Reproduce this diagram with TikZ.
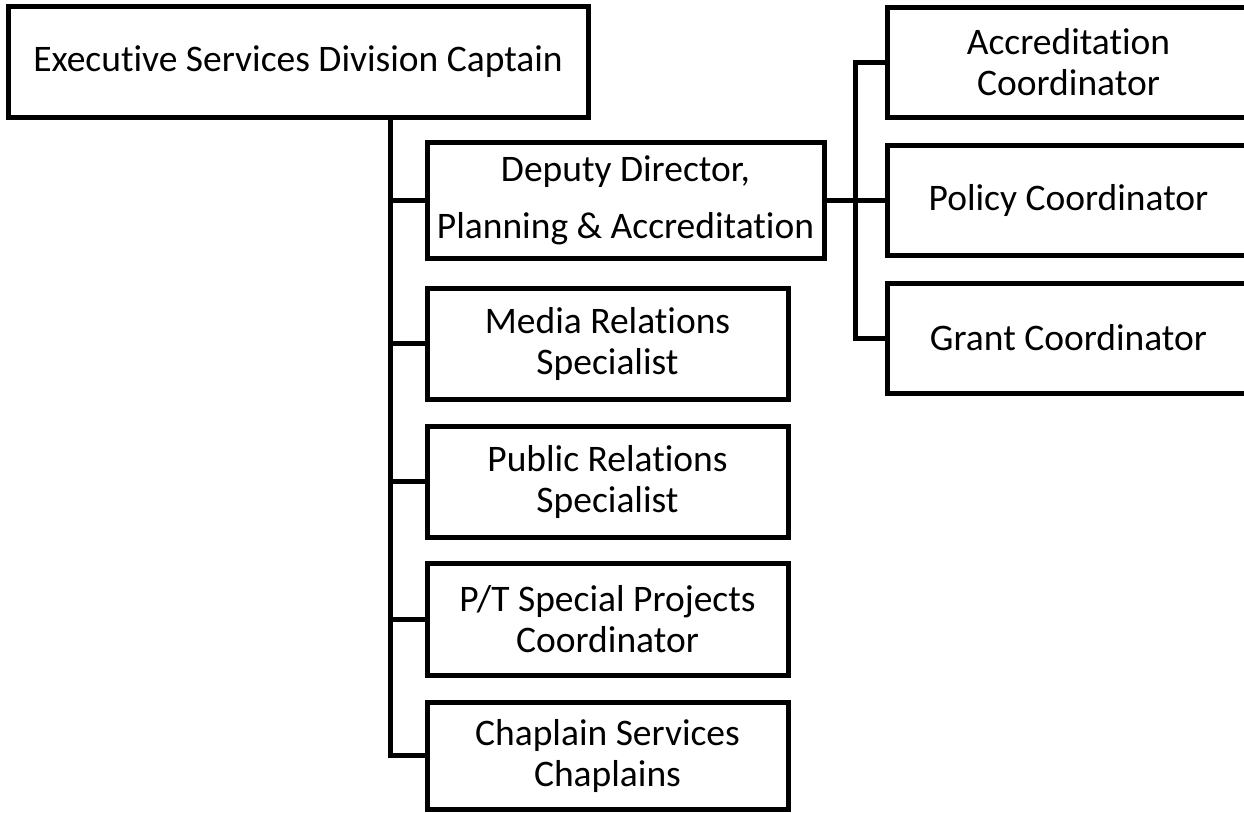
\documentclass[tikz,border=0pt]{standalone}
\usepackage{fontspec}
\setmainfont{Carlito}[Ligatures={NoCommon}]
\begin{document}
\begin{tikzpicture}[x=1pt,y=-1pt,
  box/.style={draw=black,line width=5pt,fill=white,rectangle,inner sep=0pt,align=center,
    font=\fontsize{37.5}{41}\selectfont},
  conn/.style={draw=black,line width=5pt}]
\useasboundingbox (0,0) rectangle (1244,812);
\clip (0,0) rectangle (1244,812);
\fill[white] (0,0) rectangle (1244,812);
% nodes
\node[box,minimum width=580pt,minimum height=111pt] (top) at (298,62) {Executive Services Division Captain};
\node[box,minimum width=397pt,minimum height=116pt,font=\fontsize{37.5}{57}\selectfont] (dep) at (625.5,200) {Deputy Director,\\Planning \& Accreditation};
\node[box,minimum width=361pt,minimum height=111pt] (media) at (607.5,343.5) {Media Relations\\Specialist};
\node[box,minimum width=361pt,minimum height=111pt] (pub) at (607.5,481.5) {Public Relations\\Specialist};
\node[box,minimum width=361pt,minimum height=112pt] (pt) at (607.5,619) {P/T Special Projects\\Coordinator};
\node[box,minimum width=361pt,minimum height=107pt] (chap) at (607.5,755.5) {Chaplain Services\\Chaplains};
\node[box,minimum width=363pt,minimum height=110pt] (acc) at (1068.5,62) {Accreditation\\Coordinator};
\node[box,minimum width=363pt,minimum height=110pt] (pol) at (1068.5,200) {Policy Coordinator};
\node[box,minimum width=363pt,minimum height=110pt] (grant) at (1068.5,338) {Grant Coordinator};
% connector anchors
\coordinate (trunk) at (390,0);
\coordinate (bus) at (855,0);
% left trunk
\draw[conn] (top.south -| trunk) -- (trunk |- chap.west) -- (chap.west);
\draw[conn] (trunk |- dep.west) -- (dep.west);
\draw[conn] (trunk |- media.west) -- (media.west);
\draw[conn] (trunk |- pub.west) -- (pub.west);
\draw[conn] (trunk |- pt.west) -- (pt.west);
% right bus
\draw[conn] (dep.east) -- (pol.west);
\draw[conn] (acc.west) -- (bus |- acc.west) -- (bus |- grant.west) -- (grant.west);
\end{tikzpicture}
\end{document}
